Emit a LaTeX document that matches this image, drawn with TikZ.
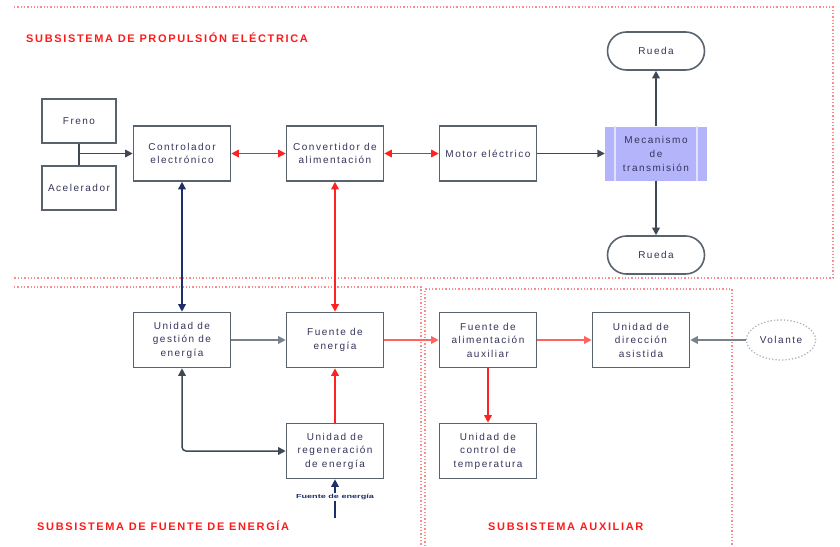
\documentclass[tikz,border=0pt]{standalone}
\usepackage{fontspec}
\setmainfont{Liberation Sans}
\newfontfamily\boxfont[LetterSpace=15]{Liberation Sans}
\newfontfamily\titlefont[LetterSpace=15]{Liberation Sans}
\usetikzlibrary{arrows.meta,shapes.geometric}

\definecolor{regred}{HTML}{FF8A8A}
\definecolor{ttlred}{HTML}{FF1A1A}
\definecolor{txt}{HTML}{34345A}
\definecolor{boxline}{HTML}{59636E}
\definecolor{darkln}{HTML}{3E4955}
\definecolor{greyln}{HTML}{76828C}
\definecolor{navyln}{HTML}{1E2E6A}
\definecolor{redln}{HTML}{FF2222}
\definecolor{lightred}{HTML}{FF6464}
\definecolor{lavender}{HTML}{B4B4FA}

\tikzset{
  block/.style={draw=boxline, line width=1.6pt, fill=white,
    minimum width=97pt, minimum height=55pt, inner sep=2pt, align=center,
    font=\boxfont\fontsize{10}{13.5}\selectfont, text=txt},
  smallblock/.style={block, minimum width=74pt, minimum height=44pt},
  wheel/.style={block, rounded corners=19pt, minimum height=38pt},
  mech/.style={fill=lavender, minimum width=102pt, minimum height=54pt,
    inner sep=2pt, align=center,
    font=\boxfont\fontsize{10}{14}\selectfont, text=txt},
  region/.style={regred, line width=1.3pt, dash pattern=on 1.3pt off 2pt},
  subtitle/.style={font=\titlefont\bfseries\fontsize{11}{13}\selectfont,
    text=ttlred, anchor=base west, inner sep=0pt},
  link/.style={line width=1.5pt},
  >={Triangle[length=7.5pt,width=7.5pt]}
}

\begin{document}
\begin{tikzpicture}[x=1pt,y=-1pt]
\useasboundingbox (0,0) rectangle (840,546);

% subsystem frames
\draw[region] (14,7) -- (833,7) -- (833,278) -- (14,278);
\draw[region] (14,287) -- (421,287) -- (421,546);
\draw[region] (425,546) -- (425,289) -- (732,289) -- (732,546);

% subsystem titles
\node[subtitle] (tprop) at (26,42.5) {SUBSISTEMA DE PROPULSIÓN ELÉCTRICA};
\node[subtitle] (tener) at (37,530.5) {SUBSISTEMA DE FUENTE DE ENERGÍA};
\node[subtitle] (taux) at (488,530.5) {SUBSISTEMA AUXILIAR};

% propulsion blocks
\node[smallblock] (freno) at (79,121) {Freno};
\node[smallblock] (acel) at (79,188) {Acelerador};
\node[block] (ctrl) at (182,153.5) {Controlador\\electrónico};
\node[block] (conv) at (335,153.5) {Convertidor de\\alimentación};
\node[block] (motor) at (488,153.5) {Motor eléctrico};
\node[mech] (mec) at (656,153.5) {Mecanismo\\de\\transmisión};
\draw[white!60!lavender, line width=1.5pt] ([xshift=10pt]mec.north west) -- ([xshift=10pt]mec.south west);
\draw[white!60!lavender, line width=1.5pt] ([xshift=-10pt]mec.north east) -- ([xshift=-10pt]mec.south east);
\node[wheel] (rtop) at (656,51) {Rueda};
\node[wheel] (rbot) at (656,255) {Rueda};

% energy source blocks
\node[block] (gest) at (182,340) {Unidad de\\gestión de\\energía};
\node[block] (fuente) at (335,340) {Fuente de\\energía};
\node[block] (regen) at (335,451) {Unidad de\\regeneración\\de energía};
\node[inner sep=1pt, text=navyln, font=\fontsize{6.5}{7}\selectfont\bfseries] (fe) at (335,497)
  {\scalebox{1.4}[0.9]{Fuente de energía}};
\coordinate (feb) at (335,518);

% auxiliary blocks
\node[block] (aux) at (488,340) {Fuente de\\alimentación\\auxiliar};
\node[block] (dir) at (641,340) {Unidad de\\dirección\\asistida};
\node[block] (temp) at (488,451) {Unidad de\\control de\\temperatura};
\node[ellipse, draw=greyln!60, dotted, line width=1.3pt, minimum width=66pt,
  minimum height=40pt, font=\boxfont\fontsize{10}{12}\selectfont, text=txt] (vol) at (781,340) {Volante};

% connectors
\coordinate (fa) at (79,153.5);
\draw[link, darkln] (freno.south) -- (acel.north);
\draw[link, darkln, ->] (fa) -- (ctrl.west);
\draw[link, redln, <->] (ctrl.east) -- (conv.west);
\draw[link, redln, <->] (conv.east) -- (motor.west);
\draw[link, darkln, ->] (motor.east) -- (mec.west);
\draw[link, darkln, ->] (mec.north) -- (rtop.south);
\draw[link, darkln, ->] (mec.south) -- (rbot.north);
\draw[link, navyln, <->] (ctrl.south) -- (gest.north);
\draw[link, redln, <->] (conv.south) -- (fuente.north);
\draw[link, greyln, ->] (gest.east) -- (fuente.west);
\draw[link, lightred, ->] (fuente.east) -- (aux.west);
\draw[link, lightred, ->] (aux.east) -- (dir.west);
\draw[link, greyln, ->] (vol.west) -- (dir.east);
\draw[link, redln, ->] (aux.south) -- (temp.north);
\draw[link, redln, ->] (regen.north) -- (fuente.south);
\draw[link, darkln, <->, rounded corners=4pt] (gest.south) |- (regen.west);
\draw[link, navyln, ->] (fe.north) -- (regen.south);
\draw[link, navyln] (feb) -- (fe.south);
\end{tikzpicture}
\end{document}
